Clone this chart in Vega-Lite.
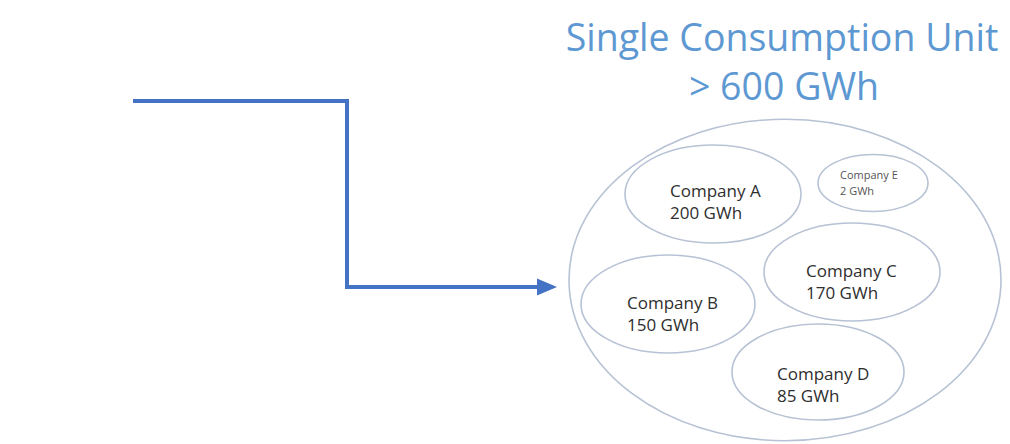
{
  "$schema": "https://vega.github.io/schema/vega-lite/v6.json",
  "width": 1010,
  "height": 444,
  "autosize": {"type": "fit", "contains": "padding"},
  "padding": 0,
  "background": "white",
  "config": {"view": {"stroke": null}},
  "datasets": {
    "arrow": [
      {"step": 1, "x": 133, "y": 101},
      {"step": 2, "x": 347, "y": 101},
      {"step": 3, "x": 347, "y": 287},
      {"step": 4, "x": 541, "y": 287}
    ],
    "head": [{"x": 547, "y": 287}],
    "ellipses": [
      {"name": "Single Consumption Unit", "x": 785, "y": 280, "width": 432},
      {"name": "Company A", "x": 713, "y": 194, "width": 176},
      {"name": "Company B", "x": 668, "y": 304, "width": 174},
      {"name": "Company C", "x": 852, "y": 272, "width": 176},
      {"name": "Company D", "x": 818, "y": 372, "width": 172},
      {"name": "Company E", "x": 873, "y": 183, "width": 110}
    ],
    "labels": [
      {"company": "Company A", "amount": "200 GWh", "x": 670, "y": 197},
      {"company": "Company B", "amount": "150 GWh", "x": 627, "y": 309},
      {"company": "Company C", "amount": "170 GWh", "x": 806, "y": 277},
      {"company": "Company D", "amount": "85 GWh", "x": 777, "y": 380},
      {"company": "Company E", "amount": "2 GWh", "x": 840, "y": 179}
    ],
    "title": [
      {"line": "Single Consumption Unit", "x": 782, "y": 51},
      {"line": "> 600 GWh", "x": 784, "y": 100}
    ]
  },
  "layer": [
    {
      "data": {"name": "ellipses"},
      "mark": {"type": "point", "filled": false, "opacity": 1, "strokeWidth": 1.6, "color": "#b7c2d4"},
      "encoding": {
        "x": {"field": "x", "type": "quantitative", "scale": {"domain": [0, 1010]}, "axis": null},
        "y": {"field": "y", "type": "quantitative", "scale": {"domain": [0, 444], "reverse": true}, "axis": null},
        "shape": {
          "field": "name", "type": "nominal", "legend": null,
          "scale": {
            "domain": ["Single Consumption Unit", "Company A", "Company B", "Company C", "Company D", "Company E"],
            "range": [
              "M-1,0A1,0.744,0,1,0,1,0A1,0.744,0,1,0,-1,0Z",
              "M-1,0A1,0.557,0,1,0,1,0A1,0.557,0,1,0,-1,0Z",
              "M-1,0A1,0.563,0,1,0,1,0A1,0.563,0,1,0,-1,0Z",
              "M-1,0A1,0.557,0,1,0,1,0A1,0.557,0,1,0,-1,0Z",
              "M-1,0A1,0.558,0,1,0,1,0A1,0.558,0,1,0,-1,0Z",
              "M-1,0A1,0.518,0,1,0,1,0A1,0.518,0,1,0,-1,0Z"
            ]
          }
        },
        "size": {"field": "width", "type": "quantitative", "legend": null, "scale": {"type": "pow", "exponent": 2, "domain": [0, 500], "range": [0, 250000], "zero": true}}
      }
    },
    {
      "data": {"name": "arrow"},
      "mark": {"type": "line", "color": "#4472c4", "strokeWidth": 4, "strokeJoin": "miter", "strokeCap": "butt"},
      "encoding": {
        "x": {"field": "x", "type": "quantitative", "scale": {"domain": [0, 1010]}, "axis": null},
        "y": {"field": "y", "type": "quantitative", "scale": {"domain": [0, 444], "reverse": true}, "axis": null},
        "order": {"field": "step", "type": "quantitative"}
      }
    },
    {
      "data": {"name": "head"},
      "mark": {"type": "point", "filled": true, "opacity": 1, "color": "#4472c4", "shape": "M-1,-0.85L1,0L-1,0.85Z", "size": 400, "strokeWidth": 0},
      "encoding": {
        "x": {"field": "x", "type": "quantitative", "scale": {"domain": [0, 1010]}, "axis": null},
        "y": {"field": "y", "type": "quantitative", "scale": {"domain": [0, 444], "reverse": true}, "axis": null}
      }
    },
    {
      "data": {"name": "labels"},
      "transform": [{"filter": "datum.company != 'Company E'"}],
      "layer": [
        {
          "mark": {"type": "text", "align": "left", "baseline": "alphabetic", "font": "Open Sans", "fontSize": 17, "color": "#2e2e2e"},
          "encoding": {
            "x": {"field": "x", "type": "quantitative", "scale": {"domain": [0, 1010]}, "axis": null},
            "y": {"field": "y", "type": "quantitative", "scale": {"domain": [0, 444], "reverse": true}, "axis": null},
            "text": {"field": "company"}
          }
        },
        {
          "mark": {"type": "text", "align": "left", "baseline": "alphabetic", "font": "Open Sans", "fontSize": 17, "color": "#2e2e2e", "yOffset": 22},
          "encoding": {
            "x": {"field": "x", "type": "quantitative", "scale": {"domain": [0, 1010]}, "axis": null},
            "y": {"field": "y", "type": "quantitative", "scale": {"domain": [0, 444], "reverse": true}, "axis": null},
            "text": {"field": "amount"}
          }
        }
      ]
    },
    {
      "data": {"name": "labels"},
      "transform": [{"filter": "datum.company == 'Company E'"}],
      "layer": [
        {
          "mark": {"type": "text", "align": "left", "baseline": "alphabetic", "font": "Open Sans", "fontSize": 11, "color": "#555555"},
          "encoding": {
            "x": {"field": "x", "type": "quantitative", "scale": {"domain": [0, 1010]}, "axis": null},
            "y": {"field": "y", "type": "quantitative", "scale": {"domain": [0, 444], "reverse": true}, "axis": null},
            "text": {"field": "company"}
          }
        },
        {
          "mark": {"type": "text", "align": "left", "baseline": "alphabetic", "font": "Open Sans", "fontSize": 11, "color": "#555555", "yOffset": 16},
          "encoding": {
            "x": {"field": "x", "type": "quantitative", "scale": {"domain": [0, 1010]}, "axis": null},
            "y": {"field": "y", "type": "quantitative", "scale": {"domain": [0, 444], "reverse": true}, "axis": null},
            "text": {"field": "amount"}
          }
        }
      ]
    },
    {
      "data": {"name": "title"},
      "mark": {"type": "text", "align": "center", "baseline": "alphabetic", "font": "Open Sans", "fontSize": 37.5, "color": "#5e98d2"},
      "encoding": {
        "x": {"field": "x", "type": "quantitative", "scale": {"domain": [0, 1010]}, "axis": null},
        "y": {"field": "y", "type": "quantitative", "scale": {"domain": [0, 444], "reverse": true}, "axis": null},
        "text": {"field": "line"}
      }
    }
  ]
}
